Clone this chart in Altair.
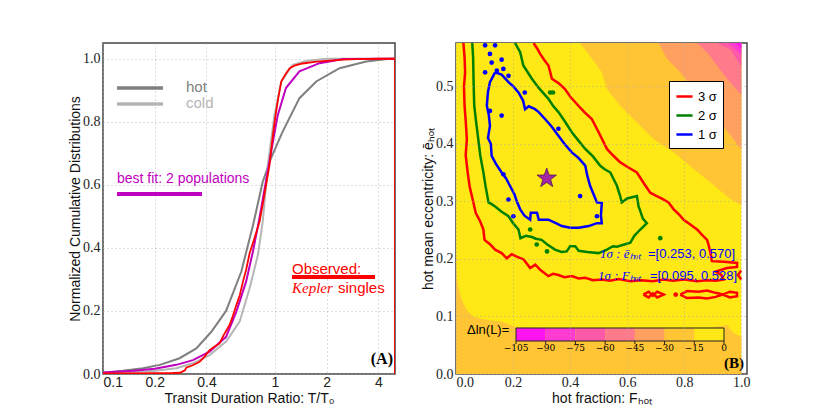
import altair as alt
import pandas as pd

# ---------------- Panel A: cumulative distributions ----------------
hot_x = [0.1, 0.13, 0.171, 0.214, 0.279, 0.349, 0.427, 0.52, 0.638, 0.713, 0.745, 0.85, 0.95, 1.11, 1.39, 1.74, 2.38, 3.4, 4.5, 5.0]
hot_y = [0.004, 0.01, 0.018, 0.029, 0.05, 0.081, 0.134, 0.2, 0.325, 0.43, 0.47, 0.61, 0.685, 0.769, 0.875, 0.928, 0.97, 0.991, 0.999, 1.0]

cold_x = [0.1, 0.15, 0.2, 0.267, 0.334, 0.417, 0.52, 0.624, 0.713, 0.797, 0.85, 0.91, 0.995, 1.09, 1.27, 1.52, 2.0, 5.0]
cold_y = [0.003, 0.006, 0.01, 0.018, 0.034, 0.06, 0.103, 0.166, 0.272, 0.378, 0.484, 0.663, 0.822, 0.928, 0.981, 0.993, 1.0, 1.0]

fit_x = [0.1, 0.15, 0.2, 0.267, 0.334, 0.417, 0.52, 0.597, 0.68, 0.745, 0.807, 0.944, 1.04, 1.16, 1.39, 1.82, 2.5, 5.0]
fit_y = [0.005, 0.01, 0.017, 0.029, 0.044, 0.071, 0.118, 0.198, 0.293, 0.388, 0.484, 0.695, 0.822, 0.907, 0.96, 0.986, 0.999, 1.0]

obs_x = [0.1, 0.15, 0.2, 0.25, 0.28, 0.3, 0.305, 0.33, 0.365, 0.39, 0.417, 0.44, 0.477, 0.5, 0.546, 0.57, 0.597,
         0.625, 0.652, 0.68, 0.713, 0.76, 0.815, 0.87, 0.931, 0.97, 1.01, 1.05, 1.09, 1.15, 1.22, 1.3, 1.45, 1.7,
         1.99, 2.5, 3.0, 4.0, 5.0, 5.0]
obs_y = [0.002, 0.002, 0.003, 0.003, 0.004, 0.012, 0.02, 0.027, 0.039, 0.055, 0.076, 0.085, 0.097, 0.12, 0.156, 0.185,
         0.219, 0.25, 0.293, 0.33, 0.383, 0.43, 0.484, 0.57, 0.663, 0.75, 0.822, 0.88, 0.928, 0.95, 0.97, 0.978,
         0.985, 0.99, 0.993, 0.997, 0.999, 1.0, 1.0, 0.0]

A_xticks = [0.1, 0.2, 0.4, 1, 2, 4]
A_yticks = [0.0, 0.2, 0.4, 0.6, 0.8, 1.0]

# ---------------- Panel B: likelihood map ----------------
levels = [-105, -90, -75, -60, -45, -30, -15, 0]
band_colors = ["#ff14f0", "#ff3cd2", "#ff5aaa", "#ff7a8a", "#ffa060", "#ffc535", "#fee815"]

# boundary of the -30..-15 band along the bottom (filled below)
bottom_x = [0.0, 0.003, 0.008, 0.02, 0.0375, 0.06, 0.078, 0.12, 0.16, 0.19, 0.206, 0.4, 0.6, 0.8, 0.95, 0.973, 1.0]
bottom_y = [0.21, 0.17, 0.15, 0.129, 0.111, 0.1, 0.097, 0.093, 0.091, 0.085, 0.082, 0.078, 0.075, 0.072, 0.085, 0.071, 0.065]

# upper-right boundaries (filled above), keyed by band index
upper_x = {
    5: [0.435, 0.476, 0.511, 0.529, 0.575, 0.634, 0.693, 0.763, 0.833, 0.891, 0.961, 1.0],
    4: [0.71, 0.739, 0.786, 0.833, 0.88, 0.926, 0.973, 1.0],
    3: [0.845, 0.88, 0.915, 0.95, 1.0],
    2: [0.915, 0.961, 1.0],
    1: [0.955, 1.0],
    0: [0.98, 1.0],
}
upper_y = {
    5: [0.575, 0.548, 0.524, 0.495, 0.466, 0.437, 0.408, 0.385, 0.356, 0.333, 0.304, 0.294],
    4: [0.575, 0.548, 0.524, 0.495, 0.466, 0.437, 0.408, 0.39],
    3: [0.575, 0.559, 0.536, 0.513, 0.485],
    2: [0.575, 0.564, 0.535],
    1: [0.575, 0.555],
    0: [0.575, 0.566],
}

red_x = [0.026, 0.030, 0.032, 0.028, 0.030, 0.034, 0.038, 0.034, 0.041, 0.048, 0.061, 0.069, 0.085, 0.096, 0.10, 0.12,
         0.137, 0.16, 0.178, 0.195, 0.213, 0.237, 0.26, 0.278, 0.295, 0.324, 0.34, 0.359, 0.38, 0.406, 0.43, 0.453,
         0.48, 0.511, 0.54, 0.57, 0.611, 0.65, 0.69, 0.728, 0.76, 0.80, 0.845, 0.88, 0.91, 0.938, 0.93, 0.91, 0.95,
         0.985, 0.985, 0.94, 0.897, 0.892, 0.885, 0.88, 0.86, 0.845, 0.82, 0.798, 0.78, 0.763, 0.745, 0.72, 0.70,
         0.681, 0.66, 0.634, 0.60, 0.575, 0.55, 0.529, 0.51, 0.5, 0.476, 0.45, 0.429, 0.40, 0.382, 0.36, 0.336,
         0.33, 0.324, 0.31, 0.295, 0.285, 0.272]
red_y = [0.575, 0.55, 0.524, 0.50, 0.466, 0.44, 0.408, 0.38, 0.35, 0.325, 0.298, 0.28, 0.265, 0.251, 0.233, 0.225,
         0.216, 0.21, 0.201, 0.208, 0.204, 0.199, 0.184, 0.19, 0.181, 0.17, 0.174, 0.172, 0.168, 0.17, 0.166, 0.167,
         0.163, 0.164, 0.162, 0.165, 0.161, 0.163, 0.161, 0.164, 0.162, 0.164, 0.161, 0.163, 0.162, 0.164, 0.172,
         0.178, 0.184, 0.186, 0.193, 0.195, 0.196, 0.21, 0.225, 0.233, 0.243, 0.251, 0.26, 0.268, 0.278, 0.286,
         0.298, 0.305, 0.31, 0.315, 0.33, 0.35, 0.36, 0.368, 0.38, 0.391, 0.41, 0.42, 0.443, 0.455, 0.466, 0.482,
         0.495, 0.505, 0.513, 0.525, 0.536, 0.545, 0.556, 0.565, 0.575]

red_loop1_x = [0.657, 0.675, 0.69, 0.705, 0.728, 0.705, 0.69, 0.675, 0.657]
red_loop1_y = [0.138, 0.143, 0.136, 0.143, 0.138, 0.133, 0.140, 0.133, 0.138]
red_loop2_x = [0.786, 0.81, 0.85, 0.88, 0.91, 0.935, 0.96, 0.985, 0.985, 0.96, 0.935, 0.91, 0.88, 0.85, 0.81, 0.786]
red_loop2_y = [0.138, 0.144, 0.143, 0.145, 0.141, 0.138, 0.143, 0.141, 0.135, 0.133, 0.138, 0.134, 0.131, 0.133, 0.132, 0.138]
red_loop3_x = [1.0, 0.988, 1.0]
red_loop3_y = [0.18, 0.172, 0.164]

green_x = [0.057, 0.060, 0.061, 0.062, 0.064, 0.07, 0.078, 0.085, 0.096, 0.104, 0.114, 0.125, 0.137, 0.16, 0.184, 0.20,
           0.219, 0.226, 0.245, 0.266, 0.28, 0.30, 0.32, 0.347, 0.37, 0.388, 0.40, 0.418, 0.43, 0.46, 0.5, 0.529,
           0.55, 0.564, 0.59, 0.611, 0.625, 0.646, 0.669, 0.655, 0.646, 0.64, 0.634, 0.60, 0.581, 0.575, 0.564,
           0.541, 0.52, 0.505, 0.48, 0.453, 0.43, 0.406, 0.38, 0.359, 0.34, 0.324, 0.29, 0.266, 0.236, 0.225, 0.207]
green_y = [0.575, 0.55, 0.524, 0.50, 0.466, 0.44, 0.408, 0.38, 0.35, 0.325, 0.298, 0.295, 0.291, 0.282, 0.274, 0.262,
           0.251, 0.236, 0.24, 0.238, 0.235, 0.233, 0.225, 0.216, 0.212, 0.213, 0.222, 0.222, 0.214, 0.212, 0.21,
           0.216, 0.222, 0.221, 0.225, 0.228, 0.24, 0.251, 0.262, 0.27, 0.283, 0.291, 0.309, 0.305, 0.298, 0.31,
           0.327, 0.35, 0.356, 0.362, 0.378, 0.391, 0.405, 0.42, 0.44, 0.455, 0.466, 0.478, 0.497, 0.513, 0.536,
           0.559, 0.575]

blue_x = [0.137, 0.119, 0.112, 0.108, 0.115, 0.119, 0.112, 0.122, 0.125, 0.14, 0.16, 0.175, 0.189, 0.205, 0.213, 0.225,
          0.24, 0.26, 0.262, 0.284, 0.29, 0.324, 0.35, 0.371, 0.40, 0.43, 0.465, 0.494, 0.511, 0.508, 0.511, 0.494,
          0.48, 0.470, 0.46, 0.453, 0.43, 0.406, 0.38, 0.359, 0.335, 0.312, 0.29, 0.277, 0.255, 0.242, 0.235, 0.219,
          0.20, 0.184, 0.16, 0.137]
blue_y = [0.524, 0.507, 0.49, 0.466, 0.45, 0.431, 0.41, 0.40, 0.379, 0.365, 0.35, 0.34, 0.327, 0.312, 0.30, 0.286,
          0.275, 0.268, 0.28, 0.28, 0.268, 0.268, 0.262, 0.257, 0.254, 0.254, 0.257, 0.262, 0.262, 0.275, 0.297, 0.298,
          0.315, 0.327, 0.345, 0.362, 0.375, 0.385, 0.40, 0.414, 0.43, 0.443, 0.455, 0.46, 0.465, 0.46, 0.475, 0.489,
          0.50, 0.507, 0.52, 0.524]

blue_dot_x = [0.102, 0.137, 0.119, 0.125, 0.16, 0.166, 0.143, 0.184, 0.102, 0.241, 0.119, 0.16, 0.359, 0.166, 0.435, 0.201, 0.184, 0.494]
blue_dot_y = [0.571, 0.571, 0.556, 0.541, 0.546, 0.53, 0.527, 0.518, 0.524, 0.489, 0.457, 0.449, 0.426, 0.347, 0.309, 0.274, 0.303, 0.274]
green_dot_x = [0.26, 0.283, 0.319, 0.716, 0.33, 0.34]
green_dot_y = [0.251, 0.225, 0.213, 0.236, 0.489, 0.489]
red_dot_x = [0.77]
red_dot_y = [0.138]

best_x = [0.318]
best_y = [0.34]

B_xticks = [0.0, 0.2, 0.4, 0.6, 0.8, 1.0]
B_yticks = [0.0, 0.1, 0.2, 0.3, 0.4, 0.5]
sigma_names = ["3 σ", "2 σ", "1 σ"]
sigma_colors = ["#ff0000", "#008000", "#0000ff"]

# ---------------- layout constants (pixels inside plot areas) ----------------
WA, HA = 292, 331
WB, HB = 291, 331
GAP = 24
SANS = "Liberation Sans"
SERIF = "DejaVu Serif"
one = pd.DataFrame({"a": [0]})


def txt(s, x, y, color="black", size=14, font=SANS, align="left", style="normal", weight="normal"):
    return alt.Chart(one).mark_text(text=s, color=color, fontSize=size, font=font, align=align,
                                    baseline="middle", fontStyle=style, fontWeight=weight).encode(
        x=alt.value(x), y=alt.value(y))


def seg(x1, x2, y, color, w):
    return alt.Chart(one).mark_rule(color=color, strokeWidth=w).encode(
        x=alt.value(x1), x2=alt.value(x2), y=alt.value(y))


# ---------------- Panel A ----------------
xA = alt.X("x:Q", scale=alt.Scale(type="log", domain=[0.1, 5], nice=False),
           axis=alt.Axis(values=A_xticks, format="~g", title="Transit Duration Ratio: T/T₀",
                         labelFont=SANS, labelFontSize=14))
yA = alt.Y("y:Q", scale=alt.Scale(domain=[0, 1.05], nice=False),
           axis=alt.Axis(values=A_yticks, format=".1f", title="Normalized Cumulative Distributions"))


def cdf(xs, ys, color, w=2):
    d = pd.DataFrame({"x": xs, "y": ys, "i": list(range(len(xs)))})
    return alt.Chart(d).mark_line(color=color, strokeWidth=w, clip=True).encode(x=xA, y=yA, order="i:Q")


panelA = alt.layer(
    cdf(hot_x, hot_y, "#7f7f7f"),
    cdf(cold_x, cold_y, "#b5b5b5"),
    cdf(fit_x, fit_y, "#bf00bf"),
    cdf(obs_x, obs_y, "#ff0000", 1.8),
    seg(14, 60, 45, "#7f7f7f", 3.5), txt("hot", 83, 44, "#7f7f7f", 15),
    seg(14, 60, 61, "#b5b5b5", 3.5), txt("cold", 83, 60, "#b5b5b5", 15),
    txt("best fit: 2 populations", 14, 136, "#bf00bf", 14), seg(14, 99, 151, "#bf00bf", 4),
    txt("Observed:", 189, 226, "#ff0000", 15), seg(189, 272, 234, "#ff0000", 4),
    txt("Kepler", 189, 245, "#ff0000", 15, "Liberation Serif", style="italic"),
    txt("singles", 235, 245, "#ff0000", 15),
    txt("(A)", 290, 316, "black", 16, "Liberation Serif", align="right", weight="bold"),
).properties(width=WA, height=HA)

# ---------------- Panel B ----------------
xB = alt.X("x:Q", scale=alt.Scale(domain=[0, 1.02], nice=False, zero=False),
           axis=alt.Axis(values=B_xticks, format=".1f", title="hot fraction: Fₕₒₜ", zindex=1))
yB = alt.Y("y:Q", scale=alt.Scale(domain=[0, 0.575], nice=False), stack=None,
           axis=alt.Axis(values=B_yticks, format=".1f", title="hot mean eccentricity: ēₕₒₜ", zindex=1))
TOP = 0.575


def area(xs, lo, hi, color):
    d = pd.DataFrame({"x": xs, "y": lo, "y2": hi})
    return alt.Chart(d).mark_area(color=color, clip=True, opacity=1).encode(x=xB, y=yB, y2="y2:Q")


layersB = [area([0.0, 1.0], [0.0, 0.0], [TOP, TOP], band_colors[6]),
           area(bottom_x, [0.0] * len(bottom_x), bottom_y, band_colors[5])]
for k in [5, 4, 3, 2, 1, 0]:
    layersB.append(area(upper_x[k], upper_y[k], [TOP] * len(upper_x[k]), band_colors[k]))

cont_rows = []
for cid, name, xs, ys in [("r", "3 σ", red_x, red_y), ("r1", "3 σ", red_loop1_x, red_loop1_y),
                          ("r2", "3 σ", red_loop2_x, red_loop2_y), ("r3", "3 σ", red_loop3_x, red_loop3_y),
                          ("g", "2 σ", green_x, green_y), ("b", "1 σ", blue_x, blue_y)]:
    for i, (a, b) in enumerate(zip(xs, ys)):
        cont_rows.append({"cid": cid, "sig": name, "x": a, "y": b, "i": i})
cont = pd.DataFrame(cont_rows)

# legend position is measured from the left panel's plot origin
LEG_X = WA + GAP + 35 + 215
layersB.append(
    alt.Chart(cont).mark_line(strokeWidth=2.5, clip=True).encode(
        x=xB, y=yB, detail="cid:N", order="i:Q",
        color=alt.Color("sig:N", scale=alt.Scale(domain=sigma_names, range=sigma_colors),
                        legend=alt.Legend(orient="none", legendX=LEG_X, legendY=38, title=None,
                                          symbolType="stroke", symbolStrokeWidth=2.5, symbolSize=260,
                                          strokeColor="#000", fillColor="white", padding=6,
                                          labelFont=SANS, labelFontSize=13, rowPadding=2))))

for xs, ys, c in [(blue_dot_x, blue_dot_y, "#0000ff"), (green_dot_x, green_dot_y, "#008000"),
                  (red_dot_x, red_dot_y, "#ff0000")]:
    layersB.append(alt.Chart(pd.DataFrame({"x": xs, "y": ys})).mark_circle(color=c, size=22, opacity=1)
                   .encode(x=xB, y=yB))

star = "M0,-1L0.235,-0.324L0.951,-0.309L0.38,0.124L0.588,0.809L0,0.4L-0.588,0.809L-0.38,0.124L-0.951,-0.309L-0.235,-0.324Z"
layersB.append(alt.Chart(pd.DataFrame({"x": best_x, "y": best_y})).mark_point(
    shape=star, size=420, filled=True, fill="#a526a5", stroke="#4a1a4a", strokeWidth=0.8, opacity=1)
    .encode(x=xB, y=yB))

# colorbar (drawn as a guide inside panel B)
CB_L, CB_R, CB_T, CB_B = 60, 268, 285, 298
span = levels[-1] - levels[0]
for k in range(7):
    x1 = CB_L + (levels[k] - levels[0]) / span * (CB_R - CB_L)
    x2 = CB_L + (levels[k + 1] - levels[0]) / span * (CB_R - CB_L)
    layersB.append(alt.Chart(one).mark_rect(color=band_colors[k]).encode(
        x=alt.value(x1), x2=alt.value(x2), y=alt.value(CB_T), y2=alt.value(CB_B)))
layersB.append(alt.Chart(one).mark_rect(fillOpacity=0, stroke="#222", strokeWidth=1).encode(
    x=alt.value(CB_L), x2=alt.value(CB_R), y=alt.value(CB_T), y2=alt.value(CB_B)))
for lv in levels:
    xp = CB_L + (lv - levels[0]) / span * (CB_R - CB_L)
    layersB.append(alt.Chart(one).mark_rule(color="#222", strokeWidth=1).encode(
        x=alt.value(xp), y=alt.value(CB_B), y2=alt.value(CB_B + 3)))
    layersB.append(txt(str(lv).replace("-", "−"), xp, CB_B + 7, "black", 9, SERIF, align="center"))
layersB.append(txt("Δln(L)=", 11, 287, "black", 13, SANS))
layersB.append(txt("1σ : ēₕₒₜ", 144, 211, "#0000ff", 13, "Liberation Serif", style="italic"))
layersB.append(txt("=[0.253, 0.570]", 192, 211, "#0000ff", 13, SANS))
layersB.append(txt("1σ : Fₕₒₜ", 142, 233, "#0000ff", 13, "Liberation Serif", style="italic"))
layersB.append(txt("=[0.095, 0.528]", 194, 233, "#0000ff", 13, SANS))
layersB.append(txt("(B)", 288, 320, "black", 15, "Liberation Serif", align="right", weight="bold"))

panelB = alt.layer(*layersB).properties(width=WB, height=HB)

chart = alt.hconcat(panelA, panelB, spacing=GAP).properties(
    padding={"top": 34, "left": 59, "right": 5, "bottom": 5}
).configure_view(stroke="#444", strokeWidth=1.5).configure_axis(
    domain=False, ticks=False,
    labelFont="Liberation Serif", labelFontSize=14, labelColor="#222",
    titleFont=SANS, titleFontSize=14, titleFontWeight="normal", titleColor="#111",
    gridDash=[1, 3], gridColor="#aaaaaa", gridOpacity=0.8,
).configure_axisX(labelPadding=1, titlePadding=2).configure_axisY(labelPadding=3, titlePadding=0)

chart.save("out.html", embed_options={"renderer": "svg", "actions": False})
